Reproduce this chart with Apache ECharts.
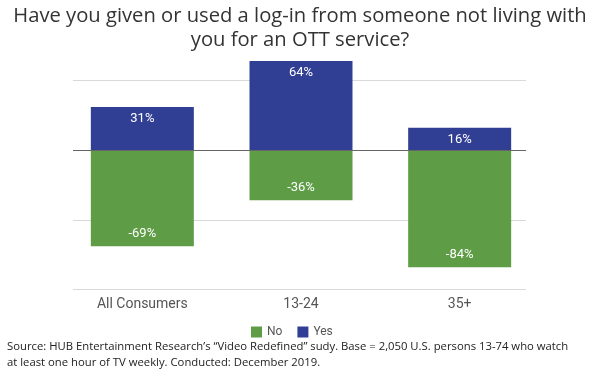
<!DOCTYPE html>
<html>
<head>
<meta charset="utf-8">
<script src="https://cdn.jsdelivr.net/npm/echarts@6/dist/echarts.min.js"></script>
<style>
html,body{margin:0;padding:0;background:#fff;}
#c{width:600px;height:375px;}
</style>
</head>
<body>
<div id="c"></div>
<script>
const titleLines = ["Have you given or used a log-in from someone not living with", "you for an OTT service?"];
const categories = ["All Consumers", "13-24", "35+"];
const noValues = [-69, -36, -84];
const yesValues = [31, 64, 16];
const gridTicks = [-100, -50, 0, 50];
const sourceLines = ["Source: HUB Entertainment Research\u2019s \u201cVideo Redefined\u201d sudy. Base = 2,050 U.S. persons 13-74 who watch", "at least one hour of TV weekly. Conducted: December 2019."];

const GREEN = '#5e9c46';
const BLUE = '#303f94';

const chart = echarts.init(document.getElementById('c'), null, {renderer: 'canvas'});
const pct = p => p.value + '%';

chart.setOption({
  animation: false,
  backgroundColor: '#fff',
  title: [{
    text: titleLines.join('\n'),
    left: 'center', top: -1,
    textStyle: {fontFamily: 'Open Sans', fontSize: 20.2, fontWeight: 'normal', color: '#333', lineHeight: 24}
  }, {
    text: sourceLines.join('\n'),
    left: 2, top: 334,
    textStyle: {fontFamily: 'Open Sans', fontSize: 11.3, fontWeight: 'normal', color: '#222', lineHeight: 16}
  }],
  legend: {
    data: ['No', 'Yes'],
    left: 246, top: 321,
    itemWidth: 11, itemHeight: 11, itemGap: 15,
    icon: 'rect',
    textStyle: {fontFamily: 'Roboto', fontSize: 12, color: '#555'}
  },
  grid: [
    {left: 73, right: 74, top: 80.5, bottom: 85.5},
    {left: 63, right: 61, top: 80.5, bottom: 85.5}
  ],
  xAxis: [
    {type: 'category', gridIndex: 0, data: categories, show: false},
    {type: 'category', gridIndex: 1, data: categories,
     axisLine: {show: false}, axisTick: {show: false},
     axisLabel: {fontFamily: 'Roboto', fontSize: 14, color: '#555', margin: 8}}
  ],
  yAxis: [
    {type: 'value', gridIndex: 0, min: gridTicks[0], max: gridTicks[gridTicks.length - 1], interval: 50,
     axisLine: {show: false}, axisTick: {show: false}, axisLabel: {show: false},
     splitLine: {lineStyle: {color: '#d9d9d9', width: 1}}},
    {type: 'value', gridIndex: 1, min: gridTicks[0], max: gridTicks[gridTicks.length - 1], interval: 50,
     axisLine: {show: false}, axisTick: {show: false}, axisLabel: {show: false},
     splitLine: {show: false}}
  ],
  series: [
    {
      name: 'zero', type: 'line', xAxisIndex: 0, yAxisIndex: 0, data: [],
      silent: true, legendHoverLink: false,
      markLine: {silent: true, symbol: ['none', 'none'], label: {show: false},
        lineStyle: {color: '#666', width: 1, type: 'solid'},
        data: [{yAxis: 0}]}
    },
    {
      name: 'No', type: 'bar', xAxisIndex: 1, yAxisIndex: 1, stack: 'total',
      data: noValues, barWidth: 103, clip: false,
      itemStyle: {color: GREEN},
      label: {show: true, position: 'insideBottom', distance: 6, formatter: pct,
        fontFamily: 'Roboto', fontSize: 13, color: '#fff'}
    },
    {
      name: 'Yes', type: 'bar', xAxisIndex: 1, yAxisIndex: 1, stack: 'total',
      data: yesValues, barWidth: 103, clip: false,
      itemStyle: {color: BLUE},
      label: {show: true, position: 'insideTop', distance: 5, formatter: pct,
        fontFamily: 'Roboto', fontSize: 13, color: '#fff'}
    }
  ]
});
</script>
</body>
</html>
